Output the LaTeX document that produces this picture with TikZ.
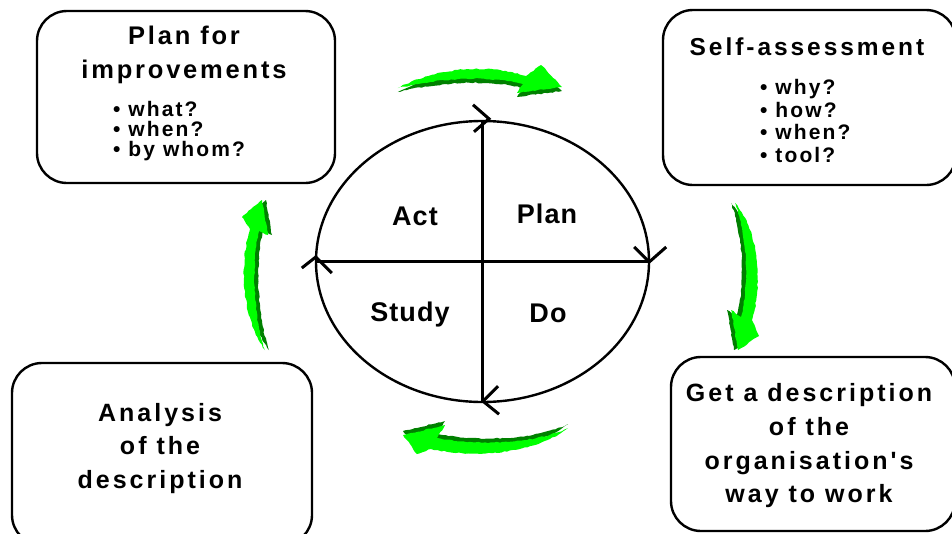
\documentclass[tikz,border=0pt]{standalone}
\usepackage{fontspec}
\setmainfont{Liberation Sans}
\newfontfamily\headfont[LetterSpace=12]{Liberation Sans}
\newfontfamily\wideheadfont[LetterSpace=11]{Liberation Sans}
\newfontfamily\itemfont[LetterSpace=10]{Liberation Sans}
\newfontfamily\phasefont[LetterSpace=4]{Liberation Sans}
\usetikzlibrary{shapes.geometric,decorations.pathmorphing}
\definecolor{arrowlight}{RGB}{0,255,0}
\definecolor{arrowdark}{RGB}{0,128,0}

\begin{document}
\begin{tikzpicture}[x=1pt,y=-1pt,
  stagebox/.style={draw, line width=2.4pt, rounded corners=30pt, inner sep=0pt},
  boxtitle/.style={font=\wideheadfont\bfseries\fontsize{25.5}{34}\selectfont, align=center, inner sep=0pt},
  boxtext/.style={font=\headfont\bfseries\fontsize{25}{33.7}\selectfont, align=center, inner sep=0pt},
  bullets/.style={font=\itemfont\bfseries\fontsize{21}{20.5}\selectfont, align=left, inner sep=0pt, anchor=west},
  phase/.style={font=\phasefont\bfseries\fontsize{27}{30}\selectfont, inner sep=0pt, anchor=base},
  cycleline/.style={line width=2.6pt},
  chevron/.style={line width=3pt},
  rough/.style={decorate, decoration={random steps, segment length=3pt, amplitude=0.6pt}},
  shade/.style={fill=arrowdark, rough},
  body/.style={fill=arrowlight, rough}
]
\pgfmathsetseed{11}
\clip (0,0) rectangle (952,533);

% ---- the four stage boxes ----
\node[stagebox, minimum width=298pt, minimum height=172pt] (improve) at (186,97) {};
\node[stagebox, minimum width=293pt, minimum height=175pt] (assess) at (809.5,97.5) {};
\node[stagebox, minimum width=284pt, minimum height=174pt] (describe) at (813,444) {};
\node[stagebox, minimum width=300pt, minimum height=182pt] (analyse) at (162,454) {};

% ---- box texts ----
\node[boxtitle] (improvetitle) at (184,55) {Plan for\\improvements};
\node[bullets, font=\itemfont\bfseries\fontsize{21}{20}\selectfont] (improveitems) at (113,131.5) {• what?\\• when?\\• by whom?};

\node[boxtitle, font=\headfont\bfseries\fontsize{24.5}{34}\selectfont] (assesstitle) at (807,46.3) {Self-assessment};
\node[bullets, font=\itemfont\bfseries\fontsize{21}{22.4}\selectfont] (assessitems) at (760,121) {• why?\\• how?\\• when?\\• tool?};

\node[boxtext] (describetext) at (809,445.7) {Get a description\\of the\\organisation's\\way to work};
\node[boxtext] (analysetext) at (160,448.5) {Analysis\\of the\\description};

% ---- PDSA cycle ----
\node[ellipse, draw, line width=2.4pt, minimum width=333pt, minimum height=281pt, inner sep=0pt] (cyc) at (482.5,261.5) {};
\draw[cycleline] (cyc.north) -- (cyc.south);
\draw[cycleline] (cyc.west) -- (cyc.east);

% direction marks on the ellipse (clockwise)
\draw[chevron] ([shift={(-9.5,-15)}]cyc.north) -- ([shift={(6.5,-1)}]cyc.north) -- ([shift={(-8.5,12)}]cyc.north);
\draw[chevron] ([shift={(-16,-14.5)}]cyc.east) -- ([shift={(-1,0.5)}]cyc.east) -- ([shift={(16,-14.5)}]cyc.east);
\draw[chevron] ([shift={(15.5,-17)}]cyc.south) -- ([shift={(0.5,-2)}]cyc.south) -- ([shift={(16.5,11)}]cyc.south);
\draw[chevron] ([shift={(-13,6.5)}]cyc.west) -- ([shift={(1,-4.5)}]cyc.west) -- ([shift={(17,11.5)}]cyc.west);

\node[phase] (act) at (415,225) {Act};
\node[phase] (plan) at (547,223.3) {Plan};
\node[phase] (study) at (410,321.7) {Study};
\node[phase] (do) at (548,322.7) {Do};

% ---- green arrows between the stages ----
% top: improvements -> self-assessment
\fill[shade, shift={(0,4)}] (398,88) .. controls (432,70) and (482,62) .. (526,76) -- (541,65) -- (562,87) -- (517,93) -- (523,84) .. controls (480,74) and (432,80) .. (398,88) -- cycle;
\fill[body] (398,88) .. controls (432,70) and (482,62) .. (526,76) -- (541,65) -- (562,87) -- (517,93) -- (523,84) .. controls (480,74) and (432,80) .. (398,88) -- cycle;
% right: self-assessment -> description
\fill[shade, shift={(-4,0)}] (735,203) .. controls (757,228) and (764,280) .. (752,320) -- (759,336) -- (738,350) -- (731,310) -- (741,317) .. controls (750,278) and (746,232) .. (735,203) -- cycle;
\fill[body] (735,203) .. controls (757,228) and (764,280) .. (752,320) -- (759,336) -- (738,350) -- (731,310) -- (741,317) .. controls (750,278) and (746,232) .. (735,203) -- cycle;
% bottom: description -> analysis
\fill[shade, shift={(0,-4)}] (568,428) .. controls (540,450) and (485,460) .. (431,449) -- (417,454) -- (403,435) -- (445,425) -- (437,438) .. controls (485,447) and (540,442) .. (568,428) -- cycle;
\fill[body] (568,428) .. controls (540,450) and (485,460) .. (431,449) -- (417,454) -- (403,435) -- (445,425) -- (437,438) .. controls (485,447) and (540,442) .. (568,428) -- cycle;
% left: analysis -> improvements
\fill[shade, shift={(4,0)}] (265,350) .. controls (244,322) and (238,268) .. (250,229) -- (242,217) -- (262,200) -- (268,235) -- (259,231) .. controls (250,270) and (255,322) .. (265,350) -- cycle;
\fill[body] (265,350) .. controls (244,322) and (238,268) .. (250,229) -- (242,217) -- (262,200) -- (268,235) -- (259,231) .. controls (250,270) and (255,322) .. (265,350) -- cycle;
\end{tikzpicture}
\end{document}
